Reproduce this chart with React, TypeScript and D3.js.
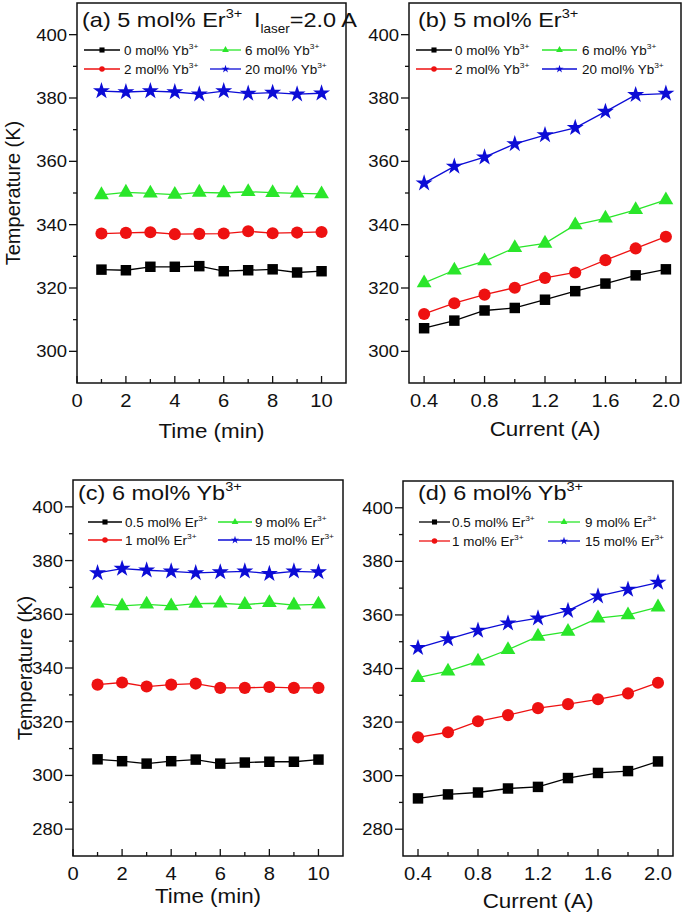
import React from 'react';
import * as d3 from 'd3';

const W = 685;
const H = 918;
const SX = 1.12; // the figure's lettering is a little stretched sideways
const FONT = '"Liberation Sans", Arial, sans-serif';

const timeMin = [1, 2, 3, 4, 5, 6, 7, 8, 9, 10];
const currentA = [0.4, 0.6, 0.8, 1.0, 1.2, 1.4, 1.6, 1.8, 2.0];

const timeTicks = [0, 2, 4, 6, 8, 10];
const timeMinor = [1, 3, 5, 7, 9];
const currentTicks = [0.4, 0.8, 1.2, 1.6, 2.0];
const currentMinor = [0.6, 1.0, 1.4, 1.8];
const tempTicksTop = [300, 320, 340, 360, 380, 400];
const tempMinorTop = [310, 330, 350, 370, 390];
const tempTicksBottom = [280, 300, 320, 340, 360, 380, 400];
const tempMinorBottom = [290, 310, 330, 350, 370, 390];

// (a) 5 mol% Er, 2.0 A, temperature vs time
const aYb0 = [325.8, 325.6, 326.7, 326.7, 326.9, 325.3, 325.6, 325.9, 324.9, 325.3];
const aYb2 = [337.2, 337.4, 337.6, 337.0, 337.1, 337.2, 337.9, 337.3, 337.5, 337.7];
const aYb6 = [349.4, 350.2, 349.9, 349.5, 350.2, 350.0, 350.4, 350.1, 349.9, 349.7];
const aYb20 = [382.2, 381.9, 382.2, 381.9, 381.2, 382.2, 381.4, 381.7, 381.2, 381.5];

// (b) 5 mol% Er, temperature vs current
const bYb0 = [307.3, 309.7, 312.9, 313.7, 316.3, 319.0, 321.4, 324.0, 325.9];
const bYb2 = [311.8, 315.2, 317.9, 320.1, 323.2, 324.9, 328.8, 332.5, 336.2];
const bYb6 = [321.6, 325.6, 328.5, 332.7, 334.1, 339.9, 342.0, 344.7, 347.8];
const bYb20 = [353.1, 358.4, 361.3, 365.5, 368.3, 370.6, 375.7, 381.0, 381.4];

// (c) 6 mol% Yb, temperature vs time
const cEr05 = [306.0, 305.3, 304.4, 305.3, 305.9, 304.4, 304.8, 305.1, 305.1, 305.9];
const cEr1 = [333.8, 334.6, 333.1, 333.8, 334.2, 332.6, 332.6, 332.9, 332.6, 332.6];
const cEr9 = [364.1, 363.1, 363.7, 363.1, 364.0, 364.1, 363.6, 364.3, 363.4, 363.7];
const cEr15 = [375.4, 377.0, 376.4, 376.0, 375.4, 375.7, 376.0, 375.1, 376.0, 375.7];

// (d) 6 mol% Yb, temperature vs current
const dEr05 = [291.5, 293.0, 293.7, 295.2, 295.8, 299.1, 301.0, 301.7, 305.3];
const dEr1 = [314.3, 316.2, 320.3, 322.6, 325.2, 326.7, 328.5, 330.7, 334.7];
const dEr9 = [336.6, 339.0, 342.7, 347.0, 352.0, 353.8, 358.8, 360.0, 362.9];
const dEr15 = [347.7, 351.0, 354.2, 356.9, 358.8, 361.6, 367.0, 369.5, 372.1];

const ybLabels = ['0 mol% Yb', '2 mol% Yb', '6 mol% Yb', '20 mol% Yb'];
const erLabels = ['0.5 mol% Er', '1 mol% Er', '9 mol% Er', '15 mol% Er'];

const colors = ['#000000', '#ee1111', '#2ae62a', '#0c0cd6'];
const shapes = [d3.symbolSquare, d3.symbolCircle, d3.symbolTriangle, d3.symbolStar];
const sizes = [110, 115, 95, 90];
const legendSizes = [26, 24, 20, 20];

function Txt({ x, y, size, anchor = 'start', children }: any) {
  return (
    <text
      transform={`translate(${x},${y}) scale(${SX},1)`}
      fontSize={size}
      textAnchor={anchor}
      fontFamily={FONT}
      fill="#111"
    >
      {children}
    </text>
  );
}

function Panel(p: any) {
  const [l, t, r, b] = p.box;
  const x = d3.scaleLinear().domain(p.xDomain).range([l, r]);
  const y = d3.scaleLinear().domain(p.yDomain).range([b, t]);
  const line = d3
    .line<number>()
    .x((d, i) => x(p.xs[i]))
    .y(d => y(d));

  return (
    <g>
      {p.series.map((vals: number[], k: number) => (
        <g key={k}>
          <path d={line(vals) || ''} fill="none" stroke={colors[k]} strokeWidth={1.3} />
          {vals.map((v, i) => (
            <path
              key={i}
              transform={`translate(${x(p.xs[i])},${y(v)})`}
              d={d3.symbol(shapes[k], sizes[k])() || ''}
              fill={colors[k]}
            />
          ))}
        </g>
      ))}

      <rect x={l} y={t} width={r - l} height={b - t} fill="none" stroke="#111" strokeWidth={1.5} />

      {p.xTicks.map((v: number) => (
        <g key={'xt' + v}>
          <line x1={x(v)} x2={x(v)} y1={b} y2={b - 7} stroke="#111" strokeWidth={1.3} />
          <Txt x={x(v)} y={b + 24} size={18} anchor="middle">
            {p.xFmt(v)}
          </Txt>
        </g>
      ))}
      {p.xMinor.map((v: number) => (
        <line key={'xm' + v} x1={x(v)} x2={x(v)} y1={b} y2={b - 4} stroke="#111" strokeWidth={1.3} />
      ))}
      {p.yTicks.map((v: number) => (
        <g key={'yt' + v}>
          <line x1={l} x2={l - 8} y1={y(v)} y2={y(v)} stroke="#111" strokeWidth={1.3} />
          <Txt x={l - 10} y={y(v) + 6} size={16.5} anchor="end">
            {v}
          </Txt>
        </g>
      ))}
      {p.yMinor.map((v: number) => (
        <line key={'ym' + v} x1={l} x2={l - 4} y1={y(v)} y2={y(v)} stroke="#111" strokeWidth={1.3} />
      ))}

      <Txt x={(l + r) / 2} y={p.xLabelY} size={20} anchor="middle">
        {p.xLabel}
      </Txt>
      {p.yLabelX && (
        <text
          transform={`translate(${p.yLabelX},${(t + b) / 2}) rotate(-90)`}
          fontSize={20}
          textAnchor="middle"
          fontFamily={FONT}
          fill="#111"
        >
          Temperature (K)
        </text>
      )}

      <Txt x={p.title.x} y={p.title.y} size={21}>
        {p.title.text}
        <tspan dy={-9} fontSize={13}>
          3+
        </tspan>
      </Txt>
      {p.laser && (
        <Txt x={p.laser.x} y={p.title.y} size={21}>
          I
          <tspan dy={6} fontSize={12}>
            laser
          </tspan>
          <tspan dy={-6}>=2.0 A</tspan>
        </Txt>
      )}

      {p.labels.map((lab: string, k: number) => {
        const col = p.legend.cols[k < 2 ? 0 : 1];
        const ly = p.legend.rows[k % 2];
        const mx = (col[0] + col[1]) / 2;
        return (
          <g key={'lg' + k}>
            <line x1={col[0]} x2={col[1]} y1={ly} y2={ly} stroke={colors[k]} strokeWidth={1.3} />
            <path
              transform={`translate(${mx},${ly})`}
              d={d3.symbol(shapes[k], legendSizes[k])() || ''}
              fill={colors[k]}
            />
            <Txt x={col[2]} y={ly + 4.5} size={12}>
              {lab}
              <tspan dy={-6} fontSize={7.5}>
                3+
              </tspan>
            </Txt>
          </g>
        );
      })}
    </g>
  );
}

const fmtInt = (v: number) => String(v);
const fmt1 = d3.format('.1f');

export default function App() {
  return (
    <svg
      width={W}
      height={H}
      style={{ position: 'absolute', left: 0, top: 0, background: '#fff' }}
    >
      <Panel
        box={[77, 3, 346, 383]}
        xDomain={[0, 11]}
        yDomain={[290, 410]}
        xs={timeMin}
        xTicks={timeTicks}
        xMinor={timeMinor}
        yTicks={tempTicksTop}
        yMinor={tempMinorTop}
        xFmt={fmtInt}
        series={[aYb0, aYb2, aYb6, aYb20]}
        labels={ybLabels}
        legend={{ rows: [50, 69], cols: [[84, 120, 124], [210, 241, 245]] }}
        title={{ x: 82, y: 27, text: '(a) 5 mol% Er' }}
        laser={{ x: 254 }}
        xLabel="Time (min)"
        xLabelY={438}
        yLabelX={20}
      />
      <Panel
        box={[409, 3, 681, 383]}
        xDomain={[0.3, 2.1]}
        yDomain={[290, 410]}
        xs={currentA}
        xTicks={currentTicks}
        xMinor={currentMinor}
        yTicks={tempTicksTop}
        yMinor={tempMinorTop}
        xFmt={fmt1}
        series={[bYb0, bYb2, bYb6, bYb20]}
        labels={ybLabels}
        legend={{ rows: [50, 69], cols: [[416, 452, 455], [542, 577, 582]] }}
        title={{ x: 418, y: 27, text: '(b) 5 mol% Er' }}
        xLabel="Current (A)"
        xLabelY={436}
      />
      <Panel
        box={[73, 480, 343, 856]}
        xDomain={[0, 11]}
        yDomain={[270, 410]}
        xs={timeMin}
        xTicks={timeTicks}
        xMinor={timeMinor}
        yTicks={tempTicksBottom}
        yMinor={tempMinorBottom}
        xFmt={fmtInt}
        series={[cEr05, cEr1, cEr9, cEr15]}
        labels={erLabels}
        legend={{ rows: [522, 540], cols: [[88, 122, 125], [218, 252, 255]] }}
        title={{ x: 78, y: 500, text: '(c) 6 mol% Yb' }}
        xLabel="Time (min)"
        xLabelY={903}
        yLabelX={32}
      />
      <Panel
        box={[403, 481, 673, 856]}
        xDomain={[0.3, 2.1]}
        yDomain={[270, 410]}
        xs={currentA}
        xTicks={currentTicks}
        xMinor={currentMinor}
        yTicks={tempTicksBottom}
        yMinor={tempMinorBottom}
        xFmt={fmt1}
        series={[dEr05, dEr1, dEr9, dEr15]}
        labels={erLabels}
        legend={{ rows: [522, 541], cols: [[419, 450, 452], [548, 580, 585]] }}
        title={{ x: 418, y: 500, text: '(d) 6 mol% Yb' }}
        xLabel="Current (A)"
        xLabelY={908}
      />
    </svg>
  );
}
